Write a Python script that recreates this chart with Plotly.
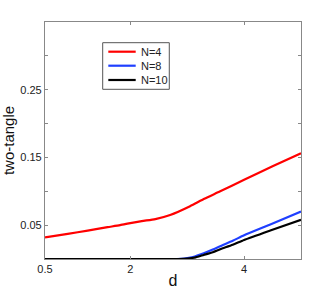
import plotly.graph_objects as go

d_red = [0.5, 0.9, 1.25, 1.6, 1.82, 2.0, 2.2, 2.44, 2.7, 3.05, 3.3, 3.58, 4.0, 4.5, 5.0]
t_red = [0.032, 0.037, 0.042, 0.047, 0.050, 0.053, 0.056, 0.059, 0.065, 0.078, 0.089, 0.100, 0.117, 0.137, 0.156]

d_n8 = [0.5, 2.0, 2.82, 2.95, 3.1, 3.29, 3.45, 3.58, 3.8, 4.0, 4.46, 5.0]
t_n8 = [0.0, 0.0, 0.0, 0.0007, 0.003, 0.0085, 0.014, 0.019, 0.027, 0.035, 0.051, 0.070]

d_n10 = [0.5, 2.0, 2.85, 3.0, 3.15, 3.29, 3.45, 3.58, 3.8, 4.0, 4.46, 5.0]
t_n10 = [0.0, 0.0, 0.0, 0.0006, 0.0025, 0.006, 0.010, 0.0144, 0.021, 0.028, 0.042, 0.058]

series = [("N=4", d_red, t_red, "#ff0000"),
          ("N=8", d_n8, t_n8, "#1f3fff"),
          ("N=10", d_n10, t_n10, "#000000")]

x_ticks = [0.5, 2, 4]
y_ticks = [0.05, 0.1, 0.15, 0.2, 0.25, 0.3]
y_ticktext = ["0.05", "", "0.15", "", "0.25", ""]

FONT = "Liberation Sans, Arial"

fig = go.Figure()
for name, x, y, c in series:
    fig.add_trace(go.Scatter(x=x, y=y, mode="lines", name=name, showlegend=False,
                             line=dict(color=c, width=2.2, shape="spline", smoothing=0.6)))

# legend box drawn in paper coordinates (MATLAB-style compact legend)
fig.add_shape(type="rect", xref="paper", yref="paper", x0=0.2254, x1=0.4855, y0=0.716, y1=0.9127,
              line=dict(color="#555555", width=1), fillcolor="white", layer="above")
row_y = [0.8747, 0.8156, 0.7553]
for (name, _, _, c), ry in zip(series, row_y):
    fig.add_shape(type="line", xref="paper", yref="paper", x0=0.2473, x1=0.3543, y0=ry, y1=ry,
                  line=dict(color=c, width=2.2), layer="above")
    fig.add_annotation(xref="paper", yref="paper", x=0.3672, y=ry, xanchor="left", yanchor="middle",
                       text=name, showarrow=False, font=dict(family=FONT, size=11, color="#222222"))

axis_common = dict(showline=True, linecolor="#888888", linewidth=1.2, mirror="allticks",
                   ticks="inside", ticklen=3, tickcolor="#888888", showgrid=False, zeroline=False,
                   automargin=False,
                   tickfont=dict(family=FONT, size=11, color="#222222"))

fig.update_layout(
    width=332, height=293,
    margin=dict(l=45, r=31, t=22, b=34),
    paper_bgcolor="white", plot_bgcolor="white",
    showlegend=False,
    xaxis=dict(range=[0.5, 5], tickvals=x_ticks, ticktext=["0.5", "2", "4"],
               title=dict(text="d", font=dict(family=FONT, size=16, color="#111111"), standoff=0),
               **axis_common),
    yaxis=dict(range=[0, 0.35], tickvals=y_ticks, ticktext=y_ticktext,
               title=dict(text="two-tangle", font=dict(family=FONT, size=15, color="#111111"), standoff=2),
               **axis_common),
)

fig.write_html("out.html", config={"displayModeBar": False},
               post_script="document.body.style.margin='0';document.body.style.overflow='hidden';")
